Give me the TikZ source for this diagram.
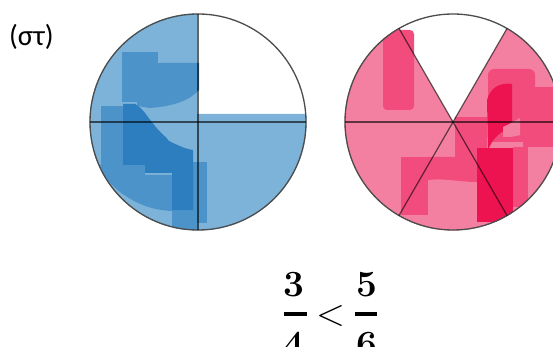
\documentclass[tikz,border=0pt]{standalone}
\usepackage{fontspec}
\newfontfamily\labelfont{Carlito}
\definecolor{blueL}{RGB}{125,179,216}
\definecolor{blueM}{RGB}{76,147,201}
\definecolor{blueD}{RGB}{44,126,190}
\definecolor{pinkL}{RGB}{244,128,161}
\definecolor{pinkM}{RGB}{241,76,124}
\definecolor{pinkD}{RGB}{237,18,80}
\tikzset{
  rim/.style={draw=black!70, line width=1.3pt},
  divider/.style={draw=black, opacity=0.6, line width=1.2pt},
  digit/.style={font=\fontsize{37}{40}\selectfont\bfseries, inner sep=0pt, anchor=base},
  relsign/.style={font=\fontsize{38}{40}\selectfont, inner sep=0pt},
  fracbar/.style={line width=3.6pt}
}
\begin{document}
\begin{tikzpicture}[x=1pt,y=-1pt]
\useasboundingbox (0,0) rectangle (553,347);
\coordinate (cL) at (198,122);
\coordinate (cR) at (453,122);

% ---------- left circle (3/4) ----------
\begin{scope}
  \clip (cL) circle[radius=108.5];
  \fill[blueL] (80,0) -- (197,0) -- (197,114) -- (320,114) -- (320,240) -- (80,240) -- cycle;
  \fill[blueM] (122,52) rectangle (158,102);
  \fill[blueM] (137,80) .. controls (137,66) and (145,63) .. (160,63) -- (199,63) -- (199,90)
       .. controls (190,100) and (175,106) .. (150,108) -- (137,106) -- cycle;
  \fill[blueM] (101,106) rectangle (123,168);
  \fill[blueM] (100,165) -- (145,165) -- (145,175) -- (172,175) -- (172,211)
       .. controls (150,210) and (135,203) .. (120,192) .. controls (108,182) and (102,175) .. (100,165) -- cycle;
  \fill[blueM] (193,162) rectangle (207,223);
  \fill[blueM] (172,208) rectangle (197,230);
  \fill[blueD] (123,104) -- (135,104) .. controls (143,108) and (148,118) .. (155,126)
       .. controls (163,136) and (175,147) .. (193,150) -- (193,210) -- (172,210) -- (172,173)
       -- (145,173) -- (145,165) -- (123,165) -- cycle;
  \fill[blueL] (165,134) .. controls (175,138) and (185,140) .. (196,140) -- (196,147)
       .. controls (185,147) and (175,145) .. (168,140) -- cycle;
\end{scope}
\draw[rim] (cL) circle[radius=108];
\draw[divider] (90,122) -- (306,122);
\draw[divider] (198,14) -- (198,230);

% ---------- right circle (5/6) ----------
\begin{scope}
  \clip (0,0) rectangle (553,347);
  \clip (cR) circle[radius=108.5];
  \fill[pinkL] (340,0) -- (382.6,0) -- (cR) -- (523.4,0) -- (570,0) -- (570,240) -- (340,240) -- cycle;
  \fill[pinkM, rounded corners=4pt] (383,30) rectangle (414,110);
  \fill[pinkM, rounded corners=6pt] (488,69) rectangle (535,142);
  \fill[pinkM] (523,87) rectangle (560,147);
  \fill[pinkM] (455,117) rectangle (487,170);
  \fill[pinkM] (401,157) rectangle (428,215);
  \fill[pinkM] (428,157) -- (477,157) -- (477,182) .. controls (460,182) and (445,178) .. (428,180) -- cycle;
  \fill[pinkM] (513,147) rectangle (528,207);
  \fill[pinkD] (477,148) rectangle (513,222);
  \fill[pinkD] (487,100) .. controls (490,88) and (500,82) .. (512,84) -- (512,128)
       .. controls (500,130) and (492,140) .. (488,150) -- cycle;
  \fill[pinkL] (503,127) .. controls (510,124) and (516,120) .. (520,118) -- (520,135)
       .. controls (514,137) and (508,137) .. (503,137) -- cycle;
\end{scope}
\begin{scope}
  \clip (0,0) rectangle (553,347);
  \draw[rim] (cR) circle[radius=108];
  \draw[divider] (345,122) -- (561,122);
  \draw[divider] (399,28.5) -- (507,215.5);
  \draw[divider] (507,28.5) -- (399,215.5);
\end{scope}

% ---------- labels ----------
\node[anchor=base west, inner sep=0pt, font=\labelfont\fontsize{29}{32}\selectfont] (lbl) at (9,46) {(στ)};

\node[digit] (n1) at (294,296) {3};
\node[digit] (d1) at (294,356) {4};
\node[digit] (n2) at (367,296) {5};
\node[digit] (d2) at (367,356) {6};
\draw[fracbar] (284,314) -- (307,314);
\draw[fracbar] (355,314) -- (377,314);
\node[relsign] (lt) at (331,316) {\textless};
\end{tikzpicture}
\end{document}
